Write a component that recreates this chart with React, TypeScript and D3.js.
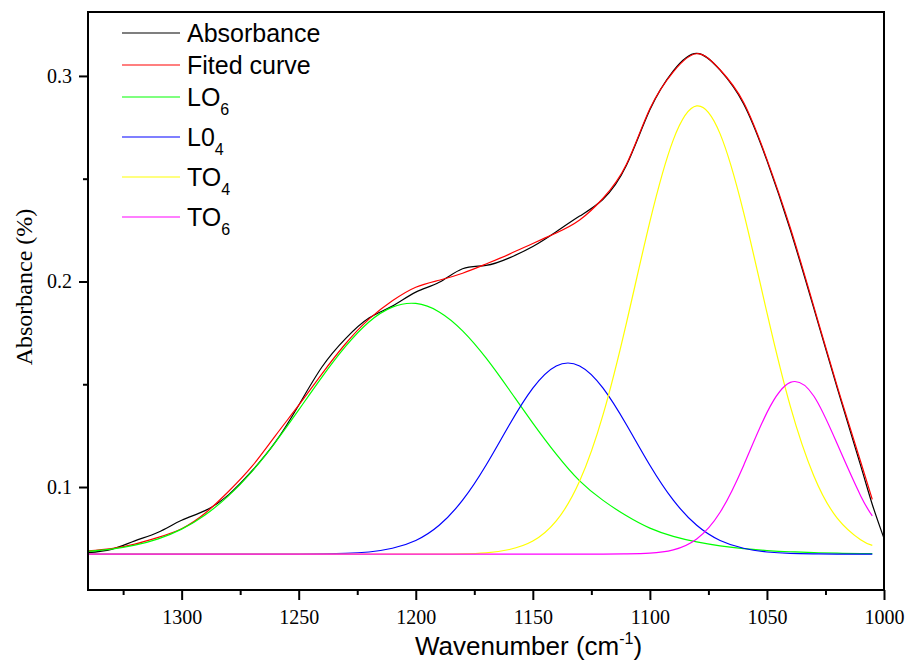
import React, { useEffect, useRef } from 'react';
import * as d3 from 'd3';

// wavenumbers (cm-1) the curves were read at
const waves = [1340, 1330, 1320, 1310, 1300, 1290, 1280, 1270, 1260, 1250, 1240, 1230, 1220, 1210, 1200, 1190, 1180, 1170,
  1160, 1150, 1140, 1130, 1120, 1110, 1100, 1090, 1080, 1070, 1060, 1050, 1040, 1030, 1020, 1010, 1005];
const absWaves = [...waves, 1000];

const absorbance = [0.0681, 0.0697, 0.0738, 0.0780, 0.0838, 0.0885, 0.0962, 0.1078, 0.1218, 0.1398, 0.1585, 0.1722,
  0.1822, 0.1880, 0.1948, 0.1996, 0.2062, 0.2078, 0.2115, 0.2170, 0.2242, 0.2318, 0.2400, 0.2565, 0.2835, 0.3025,
  0.3110, 0.3028, 0.2865, 0.2588, 0.2250, 0.1870, 0.1482, 0.1105, 0.0915, 0.0750];
const fitted = [0.0689, 0.0700, 0.0722, 0.0755, 0.0797, 0.0872, 0.0978, 0.1100, 0.1249, 0.1398, 0.1552, 0.1697,
  0.1817, 0.1906, 0.1972, 0.2006, 0.2040, 0.2085, 0.2133, 0.2185, 0.2236, 0.2299, 0.2405, 0.2570, 0.2840, 0.3020,
  0.3108, 0.3030, 0.2872, 0.2594, 0.2260, 0.1879, 0.1491, 0.1124, 0.0940];
const lo6 = [0.0687, 0.0698, 0.0717, 0.0748, 0.0795, 0.0864, 0.0957, 0.1075, 0.1217, 0.1375, 0.1536, 0.1684,
  0.1803, 0.1875, 0.1893, 0.1852, 0.1760, 0.1628, 0.1472, 0.1311, 0.1160, 0.1030, 0.0935, 0.0860, 0.0800, 0.0760,
  0.0733, 0.0714, 0.0700, 0.0691, 0.0685, 0.0681, 0.0678, 0.0676, 0.0676];
const lo4 = [0.0674, 0.0674, 0.0674, 0.0674, 0.0674, 0.0674, 0.0674, 0.0674, 0.0674, 0.0674, 0.0675, 0.0677,
  0.0684, 0.0702, 0.0740, 0.0814, 0.0936, 0.1106, 0.1303, 0.1481, 0.1589, 0.1589, 0.1481, 0.1303, 0.1106, 0.0936,
  0.0814, 0.0740, 0.0702, 0.0684, 0.0677, 0.0675, 0.0674, 0.0674, 0.0674];
const to4 = [0.0674, 0.0674, 0.0674, 0.0674, 0.0674, 0.0674, 0.0674, 0.0674, 0.0674, 0.0674, 0.0674, 0.0674,
  0.0674, 0.0674, 0.0674, 0.0674, 0.0675, 0.0680, 0.0696, 0.0737, 0.0835, 0.1029, 0.1352, 0.1799, 0.2291, 0.2689,
  0.2854, 0.2718, 0.2337, 0.1848, 0.1392, 0.1055, 0.0849, 0.0744, 0.0716];
const to6 = [0.0674, 0.0674, 0.0674, 0.0674, 0.0674, 0.0674, 0.0674, 0.0674, 0.0674, 0.0674, 0.0674, 0.0674,
  0.0674, 0.0674, 0.0674, 0.0674, 0.0674, 0.0674, 0.0674, 0.0674, 0.0674, 0.0674, 0.0674, 0.0675, 0.0678, 0.0694,
  0.0747, 0.0877, 0.1104, 0.1362, 0.1509, 0.1443, 0.1210, 0.0958, 0.0860];

const xMajor = [1300, 1250, 1200, 1150, 1100, 1050, 1000];
const xMinor = [1325, 1275, 1225, 1175, 1125, 1075, 1025];
const yMajor = [0.1, 0.2, 0.3];
const yMinor = [0.15, 0.25];

const legendNames = ['Absorbance', 'Fited curve', 'LO', 'L0', 'TO', 'TO'];
const legendSubs = ['', '', '6', '4', '4', '6'];

const serif = 'Liberation Serif, DejaVu Serif, serif';
const sans = 'Liberation Sans, Arial, sans-serif';

const App = () => {
  const chart = useRef<SVGSVGElement>(null);
  const dims = { width: 907, height: 660, left: 88, right: 884, top: 12, bottom: 590 };

  useEffect(() => {
    const svg = d3.select(chart.current);
    svg.selectAll('*').remove();

    const x = d3.scaleLinear().domain([1340, 1000]).range([dims.left, dims.right]);
    const y = d3.scaleLinear().domain([0.0499, 0.3311]).range([dims.bottom, dims.top]);

    const series = [
      { ws: absWaves, vs: absorbance, color: '#000000' },
      { ws: waves, vs: fitted, color: '#ff0000' },
      { ws: waves, vs: lo6, color: '#00ff00' },
      { ws: waves, vs: lo4, color: '#0000ff' },
      { ws: waves, vs: to4, color: '#ffff00' },
      { ws: waves, vs: to6, color: '#ff00ff' },
    ];

    // curves
    series.forEach(s => {
      const line = d3.line<number>()
        .x((d, i) => x(s.ws[i]))
        .y(d => y(d))
        .curve(d3.curveNatural);
      svg.append('path')
        .datum(s.vs)
        .attr('d', line)
        .attr('fill', 'none')
        .attr('stroke', s.color)
        .attr('stroke-width', 1.2);
    });

    // x axis
    const xAxis = svg.append('g')
      .attr('transform', `translate(0, ${dims.bottom})`)
      .call(d3.axisBottom(x).tickValues(xMajor).tickSize(10).tickPadding(10).tickFormat(d3.format('d')));
    svg.append('g')
      .attr('transform', `translate(0, ${dims.bottom})`)
      .call(d3.axisBottom(x).tickValues(xMinor).tickSize(5).tickFormat(() => ''));

    // y axis
    const yAxis = svg.append('g')
      .attr('transform', `translate(${dims.left}, 0)`)
      .call(d3.axisLeft(y).tickValues(yMajor).tickSize(9).tickPadding(7).tickFormat(d3.format('.1f')));
    svg.append('g')
      .attr('transform', `translate(${dims.left}, 0)`)
      .call(d3.axisLeft(y).tickValues(yMinor).tickSize(5).tickFormat(() => ''));

    svg.selectAll('.domain').remove();
    svg.selectAll('.tick line').attr('stroke', '#000').attr('stroke-width', 2);
    [xAxis, yAxis].forEach(a => {
      a.attr('font-family', serif).attr('font-size', 20);
      a.selectAll('text').attr('fill', '#000');
    });

    // frame
    svg.append('rect')
      .attr('x', dims.left)
      .attr('y', dims.top)
      .attr('width', dims.right - dims.left)
      .attr('height', dims.bottom - dims.top)
      .attr('fill', 'none')
      .attr('stroke', '#000')
      .attr('stroke-width', 2);

    // axis titles
    const xt = svg.append('text')
      .attr('x', 415)
      .attr('y', 655)
      .attr('font-family', sans)
      .attr('font-size', 26);
    xt.append('tspan').text('Wavenumber (cm');
    xt.append('tspan').attr('font-size', 16).attr('dy', -11).text('-1');
    xt.append('tspan').attr('dy', 11).text(')');

    svg.append('text')
      .attr('transform', 'translate(32, 287) rotate(-90)')
      .attr('text-anchor', 'middle')
      .attr('font-family', serif)
      .attr('font-size', 24)
      .text('Absorbance (%)');

    // legend
    let rowY = 33;
    legendNames.forEach((name, i) => {
      if (i > 0) rowY += legendSubs[i - 1] ? 40 : 32;
      svg.append('line')
        .attr('x1', 122).attr('x2', 180)
        .attr('y1', rowY).attr('y2', rowY)
        .attr('stroke', series[i].color)
        .attr('stroke-width', 1.2);
      const t = svg.append('text')
        .attr('x', 187)
        .attr('y', rowY + 9)
        .attr('font-family', sans)
        .attr('font-size', 25);
      t.append('tspan').text(name);
      if (legendSubs[i]) t.append('tspan').attr('font-size', 16).attr('dy', 9).text(legendSubs[i]);
    });
  }, []);

  return (
    <div style={{ position: 'absolute', left: 0, top: 0 }}>
      <svg ref={chart} width={dims.width} height={dims.height} style={{ display: 'block', background: '#fff' }} />
    </div>
  );
};

export default App;
